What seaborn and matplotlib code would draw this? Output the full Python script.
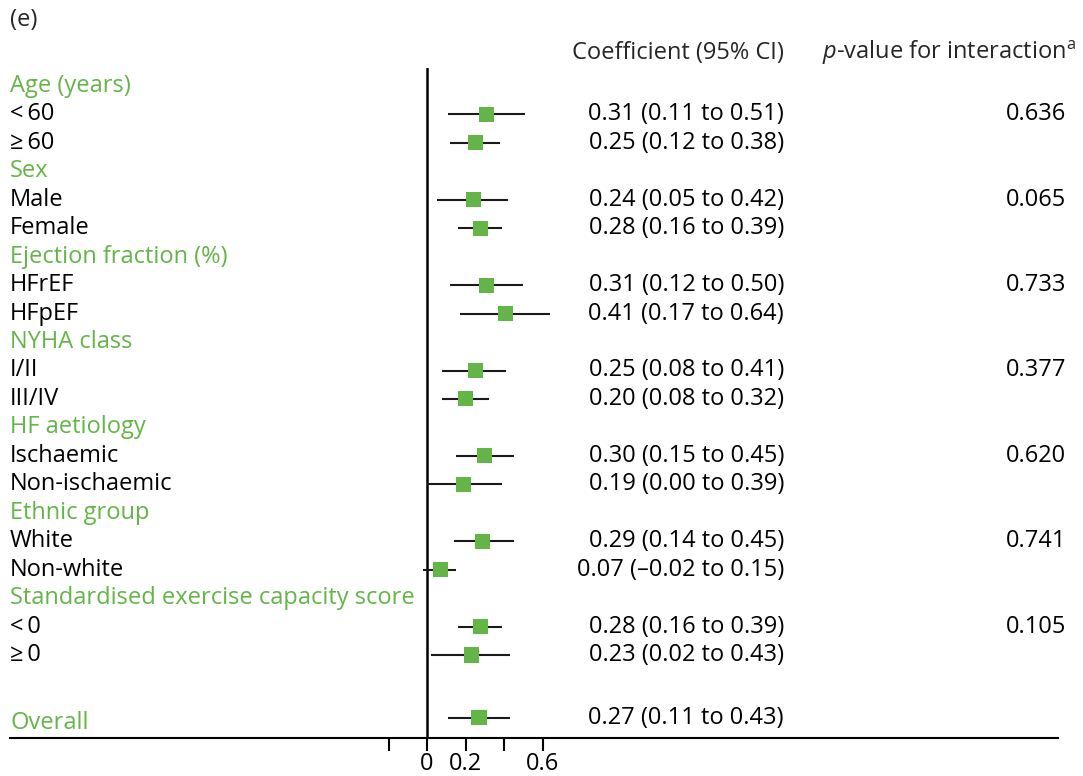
import matplotlib
matplotlib.use("Agg")
import matplotlib.pyplot as plt
import matplotlib.transforms as mtransforms
import numpy as np
import pandas as pd
import seaborn as sns

# ---- data ----
groups = ["Age (years)", "Sex", "Ejection fraction (%)", "NYHA class",
          "HF aetiology", "Ethnic group", "Standardised exercise capacity score"]
subgroups = [["<\u200960", "≥\u200960"], ["Male", "Female"], ["HFrEF", "HFpEF"],
             ["I/II", "III/IV"], ["Ischaemic", "Non-ischaemic"],
             ["White", "Non-white"], ["<\u20090", "≥\u20090"]]
estimate = [0.31, 0.25, 0.24, 0.28, 0.31, 0.41, 0.25, 0.20, 0.30, 0.19, 0.29, 0.07, 0.28, 0.23]
ci_low = [0.11, 0.12, 0.05, 0.16, 0.12, 0.17, 0.08, 0.08, 0.15, 0.00, 0.14, -0.02, 0.16, 0.02]
ci_high = [0.51, 0.38, 0.42, 0.39, 0.50, 0.64, 0.41, 0.32, 0.45, 0.39, 0.45, 0.15, 0.39, 0.43]
p_interaction = ["0.636", "0.065", "0.733", "0.377", "0.620", "0.741", "0.105"]
overall_label = "Overall"
overall_est, overall_low, overall_high = 0.27, 0.11, 0.43
x_ticks = [-0.2, 0.0, 0.2, 0.4, 0.6]
x_tick_labels = ["", "0", "0.2", "", "0.6"]

GREEN = "#63b547"
FONT = "Open Sans"

sns.set_style("white")
plt.rcParams["font.family"] = [FONT, "DejaVu Sans"]
plt.rcParams["mathtext.fontset"] = "custom"
plt.rcParams["mathtext.rm"] = FONT
plt.rcParams["mathtext.it"] = FONT + ":italic"

# ---- build table of rows ----
rows = []
idx = 0
k = 0
for gi, (g, subs) in enumerate(zip(groups, subgroups)):
    rows.append(dict(row=idx, label=g, kind="group"))
    idx += 1
    for j, s in enumerate(subs):
        rows.append(dict(row=idx, label=s, kind="item", est=estimate[k],
                         lo=ci_low[k], hi=ci_high[k],
                         p=p_interaction[gi] if j == 0 else ""))
        idx += 1
        k += 1
overall_row = idx + 1.2
rows.append(dict(row=overall_row, label=overall_label, kind="overall", est=overall_est,
                 lo=overall_low, hi=overall_high, p=""))
df = pd.DataFrame(rows)
est_df = df[df["kind"] != "group"].copy()


def fmt(v):
    s = f"{abs(v):.2f}"
    return ("\u2013" + s) if v < 0 else s


est_df["text"] = [f"{fmt(e)} ({fmt(l)} to {fmt(h)})"
                  for e, l, h in zip(est_df["est"], est_df["lo"], est_df["hi"])]

# ---- figure ----
W, H = 1083, 776
fig = plt.figure(figsize=(W / 100, H / 100), dpi=100)
ax_left, ax_right = 10 / W, 1058 / W
ax_bottom, ax_top = (H - 738) / H, (H - 68) / H
ax = fig.add_axes([ax_left, ax_bottom, ax_right - ax_left, ax_top - ax_bottom])

px_per_unit = 192.5
x0_px = 427
ax.set_xlim((10 - x0_px) / px_per_unit, (1058 - x0_px) / px_per_unit)
row_px, row0_px = 28.45, 86
ax.set_ylim((738 - row0_px) / row_px, (68 - row0_px) / row_px)

ax.axvline(0, color="black", lw=1.8, zorder=1)
ax.hlines(est_df["row"], est_df["lo"], est_df["hi"], color="#1a1a1a", lw=1.5, zorder=2)
sns.scatterplot(data=est_df, x="est", y="row", marker="s", s=118, color=GREEN,
                edgecolor="none", linewidth=0, ax=ax, zorder=3, legend=False)

for side in ["top", "right", "left"]:
    ax.spines[side].set_visible(False)
ax.spines["bottom"].set_linewidth(1.5)
ax.spines["bottom"].set_color("black")
fs = 17
ax.set_xticks(x_ticks)
ax.set_xticklabels(x_tick_labels, fontsize=fs)
ax.tick_params(axis="x", bottom=True, direction="out", length=9, width=1.5,
               color="black", pad=1, labelcolor="black")
ax.set_yticks([])
ax.set_xlabel("")
ax.set_ylabel("")

trans = mtransforms.blended_transform_factory(fig.transFigure, ax.transData)
for _, r in df.iterrows():
    color = "black" if r["kind"] == "item" else GREEN
    yoff = 0.2 if r["kind"] == "overall" else 0.0
    ax.text(10 / W, r["row"] + yoff, r["label"], transform=trans, ha="left", va="center",
            fontsize=fs, color=color)
for _, r in est_df.iterrows():
    ax.text(784 / W, r["row"], r["text"], transform=trans, ha="right", va="center",
            fontsize=fs, color="black")
    if r["p"]:
        ax.text(1066 / W, r["row"], r["p"], transform=trans, ha="right", va="center",
                fontsize=fs, color="black")

fig.text(784 / W, 1 - 53 / H, "Coefficient (95% CI)", ha="right", va="center", fontsize=fs)
fig.text(1076 / W, 1 - 53 / H, r"$\mathit{p}$-value for interaction$^{\mathrm{a}}$",
         ha="right", va="center", fontsize=fs)
fig.text(10 / W, 1 - 20 / H, "(e)", ha="left", va="center", fontsize=fs)

fig.savefig("out.png", dpi=100, facecolor="white")
